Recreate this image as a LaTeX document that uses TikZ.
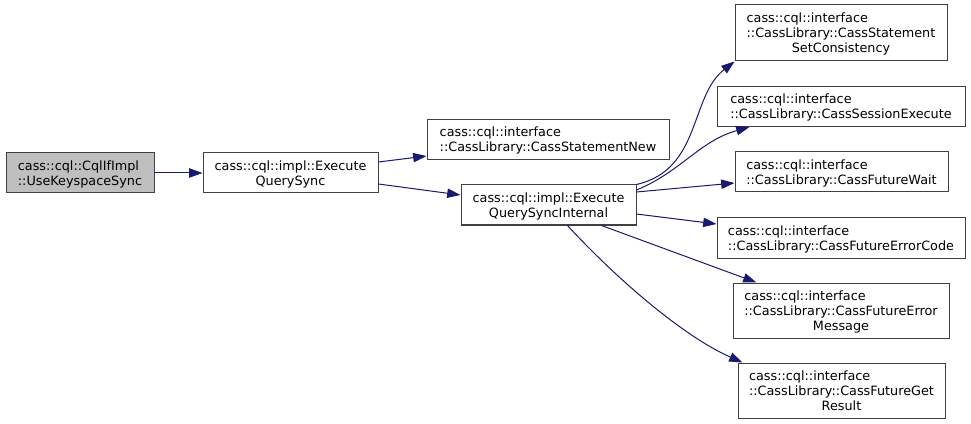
\documentclass[tikz,border=0pt]{standalone}
\usepackage{fontspec}
\setmainfont{DejaVu Sans}
\usetikzlibrary{arrows.meta,calc}

\definecolor{edgeblue}{HTML}{191970}
\definecolor{boxline}{HTML}{404040}
\definecolor{boxgray}{HTML}{BFBFBF}

\begin{document}
\begin{tikzpicture}[x=0.75pt, y=-0.75pt,
	fn/.style={draw=boxline, line width=0.75pt, fill=white, inner sep=0pt,
		font=\fontsize{9.6pt}{11.25pt}\selectfont},
	boxw/.style={minimum width=#1*0.75pt},
	boxh/.style={minimum height=#1*0.75pt},
	call/.style={draw=edgeblue, line width=0.75pt, -{Triangle[length=10pt, width=7pt]}}]

\newcommand\fnlabel[2]{\begin{tabular}{@{}l@{}}\rule{0pt}{10.5pt}#1\\\multicolumn{1}{@{}c@{}}{#2}\end{tabular}}

\useasboundingbox (0, 0) rectangle (971, 424);

% callers
\node[fn, fill=boxgray, boxw=148, boxh=40] (usekeyspace) at (80, 173) {\fnlabel{cass::cql::CqlIfImpl}{::UseKeyspaceSync}};
\node[fn, boxw=175, boxh=40] (querysync) at (290.5, 173) {\fnlabel{cass::cql::impl::Execute}{QuerySync}};
\node[fn, boxw=242, boxh=40] (stmtnew) at (548, 139.5) {\fnlabel{cass::cql::interface}{::CassLibrary::CassStatementNew}};
\node[fn, boxw=175, boxh=40] (syncinternal) at (548.5, 205) {\fnlabel{cass::cql::impl::Execute}{QuerySyncInternal}};

% callees
\node[fn, boxw=212, boxh=56] (consistency) at (841, 33) {\fnlabel{cass::cql::interface\\::CassLibrary::CassStatement}{SetConsistency}};
\node[fn, boxw=248, boxh=40] (sessionexec) at (841, 106.5) {\fnlabel{cass::cql::interface}{::CassLibrary::CassSessionExecute}};
\node[fn, boxw=213, boxh=40] (futurewait) at (841.5, 172) {\fnlabel{cass::cql::interface}{::CassLibrary::CassFutureWait}};
\node[fn, boxw=248, boxh=40] (errorcode) at (841, 238) {\fnlabel{cass::cql::interface}{::CassLibrary::CassFutureErrorCode}};
\node[fn, boxw=216, boxh=55] (errormsg) at (841, 310.5) {\fnlabel{cass::cql::interface\\::CassLibrary::CassFutureError}{Message}};
\node[fn, boxw=207, boxh=55] (getresult) at (841.5, 390.5) {\fnlabel{cass::cql::interface\\::CassLibrary::CassFutureGet}{Result}};

\draw[call] (usekeyspace) -- (querysync);
\draw[call] ($(querysync.east)+(0, -11)$) -- ($(stmtnew.west)+(0, 16.5)$);
\draw[call] ($(querysync.east)+(0, 11)$) -- ($(syncinternal.west)+(0, -10)$);

\draw[call] (syncinternal.north east) .. controls +(65, -15) and +(-45, 35) .. (consistency.south west);
\draw[call] ($(syncinternal.east)+(0, -15)$) .. controls +(44, -18) and +(-50, 14) .. ($(sessionexec.south west)+(33, 0)$);
\draw[call] ($(syncinternal.east)+(0, -13)$) -- ($(futurewait.west)+(0, 11)$);
\draw[call] ($(syncinternal.east)+(0, 9)$) -- ($(errorcode.west)+(0, -14)$);
\draw[call] ($(syncinternal.south)+(53, 0)$) -- ($(errormsg.north west)+(24, 0)$);
\draw[call] ($(syncinternal.south)+(19, 0)$) .. controls +(43, 47) and +(-63, -28) .. ($(getresult.north west)+(5, 0)$);

\end{tikzpicture}
\end{document}
